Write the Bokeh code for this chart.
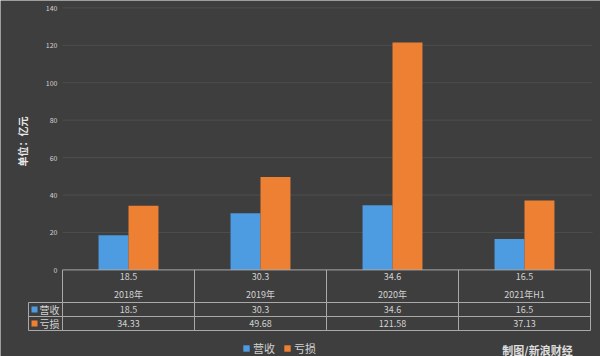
from math import pi
from bokeh.plotting import figure
from bokeh.models import Range1d, Legend, LegendItem, ColumnDataSource
from bokeh.core.properties import value
from bokeh.embed import file_html
from bokeh.resources import INLINE

# ---- data ----
categories = ["2018年", "2019年", "2020年", "2021年H1"]
series_names = ["营收", "亏损"]
revenue = [18.5, 30.3, 34.6, 16.5]
loss = [34.33, 49.68, 121.58, 37.13]
y_ticks = [0, 20, 40, 60, 80, 100, 120, 140]
axis_title = "单位：亿元"
credit = "制图/新浪财经"

# ---- style ----
FONT = "Noto Sans CJK SC"
BG = "#3e3e3e"
GRID = "#4e4e4e"
BLUE = "#4d9be0"
ORANGE = "#ee8033"
TXT = "#d2d2d2"
LINE = "#a9a9a9"

# pixel helpers (layout only): 1 category = 132 px, value 0 at y=269.4 px, 1.8714 px/unit
def px_x(px):
    return (px - 128.0) / 132.0

def px_y(px):
    return (269.4 - px) / 1.8714

p = figure(width=600, height=356, output_backend="svg", toolbar_location=None,
           x_range=Range1d(px_x(0), px_x(600)), y_range=Range1d(px_y(356), px_y(0)),
           x_axis_location=None, y_axis_location=None,
           min_border_left=0, min_border_right=0, min_border_top=0, min_border_bottom=0,
           background_fill_color=BG, border_fill_color=BG, outline_line_color=None)
p.xgrid.visible = False
p.ygrid.visible = False

ncat = len(categories)
x_left = -0.5
x_right = ncat - 0.5

# value axis: grid lines and tick labels from the tick list
grid_ticks = [t for t in y_ticks if t > 0]
p.segment(x0=[x_left] * len(grid_ticks), x1=[px_x(592)] * len(grid_ticks),
          y0=grid_ticks, y1=grid_ticks, line_color=GRID, line_width=1)
p.text(x=[px_x(57)] * len(y_ticks), y=y_ticks, text=[str(t) for t in y_ticks],
       text_font=value(FONT), text_font_size="7px", text_color=TXT,
       text_align="right", text_baseline="middle")

# bars
idx = list(range(ncat))
bw = 0.227
src = ColumnDataSource(dict(
    xb=[i - bw / 2 for i in idx], xo=[i + bw / 2 for i in idx],
    rev=revenue, loss=loss, cat=categories,
    rev_s=[f"{v:g}" for v in revenue], loss_s=[f"{v:g}" for v in loss],
    xi=idx))
r_rev = p.vbar(x="xb", width=bw, top="rev", bottom=0, source=src,
               fill_color=BLUE, line_color=None)
r_loss = p.vbar(x="xo", width=bw, top="loss", bottom=0, source=src,
                fill_color=ORANGE, line_color=None)

# table lines
y_top = 0
y_r1 = px_y(302)
y_r2 = px_y(316)
y_r3 = px_y(330)
xl0 = px_x(28)
p.segment(x0=[x_left, xl0, xl0, xl0], x1=[x_right] * 4,
          y0=[y_top, y_r1, y_r2, y_r3], y1=[y_top, y_r1, y_r2, y_r3],
          line_color=LINE, line_width=1)
vx = [xl0] + [i - 0.5 for i in range(ncat + 1)]
p.segment(x0=vx, x1=vx, y0=[y_r1] + [y_top] * (ncat + 1), y1=[y_r3] * (ncat + 2),
          line_color=LINE, line_width=1)

# table texts
tkw = dict(text_font=value(FONT), text_font_size="9px", text_color=TXT,
           text_align="center", text_baseline="middle")
p.text(x="xi", y=px_y(276), text="rev_s", source=src, **tkw)
p.text(x="xi", y=px_y(294), text="cat", source=src, **tkw)
p.text(x="xi", y=px_y(309), text="rev_s", source=src, **tkw)
p.text(x="xi", y=px_y(323), text="loss_s", source=src, **tkw)

# table row headers with colour keys
row_y = [px_y(309), px_y(323)]
p.scatter(x=[px_x(34)] * 2, y=row_y, marker="square", size=6,
          fill_color=[BLUE, ORANGE], line_color=None)
p.text(x=[px_x(39)] * 2, y=row_y, text=series_names, text_font=value(FONT),
       text_font_size="10px", text_color=TXT, text_align="left", text_baseline="middle")

# value axis title
p.text(x=[px_x(22)], y=[px_y(141)], text=[axis_title], angle=pi / 2,
       text_color="#e8e8e8", text_font=value(FONT), text_font_size="10px",
       text_font_style="bold", text_align="center", text_baseline="middle")

# bottom legend
legend = Legend(items=[LegendItem(label=series_names[0], renderers=[r_rev]),
                       LegendItem(label=series_names[1], renderers=[r_loss])],
                orientation="horizontal", location=(242, 0),
                background_fill_alpha=0, border_line_color=None,
                label_text_font=FONT, label_text_font_size="11px", label_text_color=TXT,
                glyph_width=8, glyph_height=8, spacing=8, padding=0, margin=0,
                label_standoff=3, label_height=12)
p.add_layout(legend)

# credit
p.text(x=[px_x(537)], y=[px_y(349)], text=[credit], text_font=value(FONT),
       text_font_size="11px", text_color="#e0e0e0", text_font_style="bold",
       text_align="center", text_baseline="middle")

open("out.html", "w").write(file_html(p, INLINE))
